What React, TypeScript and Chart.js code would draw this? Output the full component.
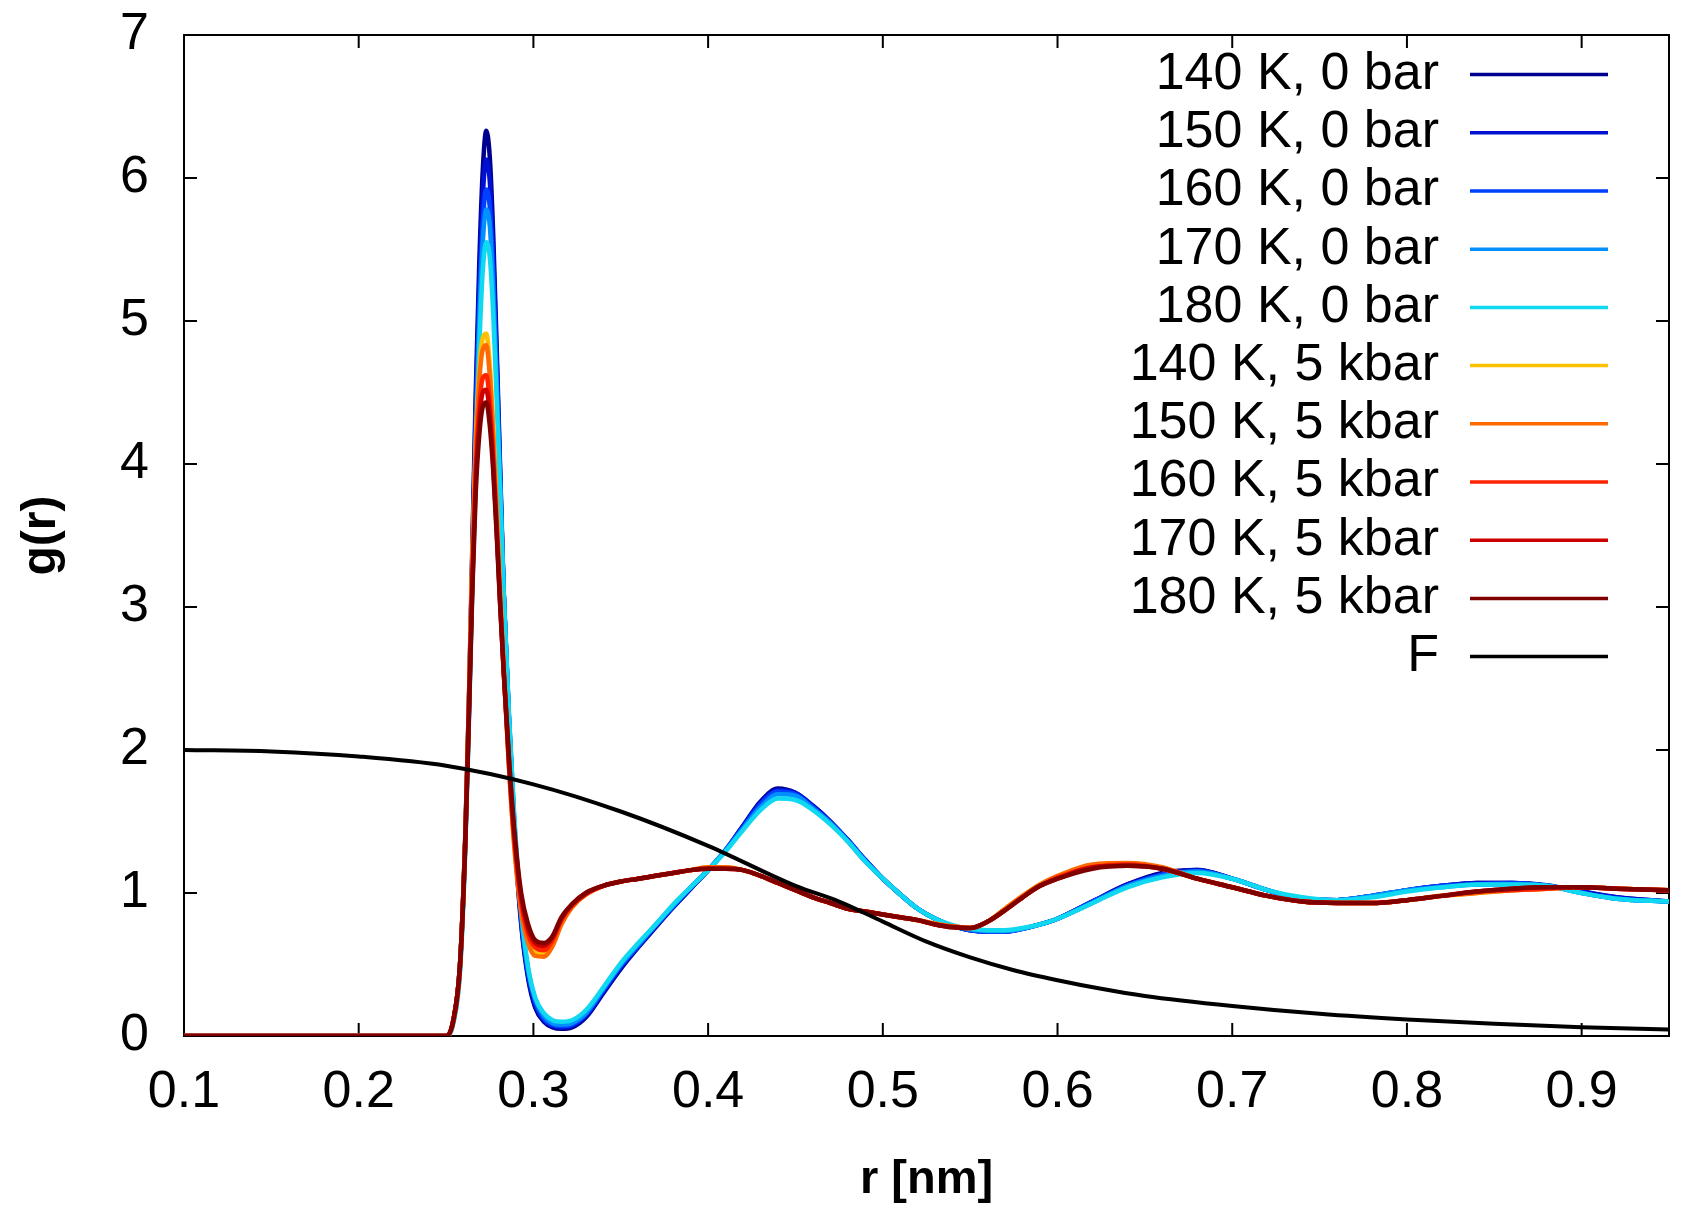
import { useEffect, useRef } from 'react';
import { Chart, registerables } from 'chart.js';

Chart.register(...registerables);

// r grid [nm] shared by all g(r) curves
const r = [
    0.10, 0.20, 0.245, 0.250, 0.254, 0.258, 0.261, 0.263, 0.265, 0.267,
    0.269, 0.271, 0.273, 0.275, 0.277, 0.279, 0.281, 0.283, 0.286, 0.289,
    0.293, 0.297, 0.301, 0.306, 0.311, 0.316, 0.322, 0.330, 0.340, 0.350,
    0.360, 0.370, 0.380, 0.390, 0.400, 0.410, 0.420, 0.430, 0.440, 0.450,
    0.460, 0.470, 0.480, 0.490, 0.500, 0.510, 0.520, 0.530, 0.540, 0.550,
    0.560, 0.570, 0.580, 0.590, 0.600, 0.620, 0.640, 0.660, 0.680, 0.700,
    0.720, 0.740, 0.760, 0.780, 0.800, 0.820, 0.840, 0.860, 0.880, 0.900,
    0.920, 0.950,
];

// 0 bar
const g140_0 = [
    0, 0, 0, 0, 0.1, 0.5, 1.4, 2.3, 3.4, 4.5,
    5.4, 6.05, 6.33, 6.15, 5.6, 4.8, 3.95, 3.1, 2.2, 1.45,
    0.78, 0.4, 0.2, 0.1, 0.06, 0.05, 0.06, 0.13, 0.3, 0.47,
    0.62, 0.76, 0.9, 1.03, 1.16, 1.3, 1.47, 1.64, 1.73, 1.7,
    1.61, 1.5, 1.37, 1.23, 1.1, 0.99, 0.89, 0.82, 0.77, 0.74,
    0.73, 0.73, 0.75, 0.78, 0.82, 0.94, 1.06, 1.14, 1.16, 1.1,
    1.02, 0.96, 0.95, 0.98, 1.02, 1.05, 1.07, 1.07, 1.055, 1.01,
    0.97, 0.94,
];
const g150_0 = [
    0, 0, 0, 0, 0.1, 0.5, 1.38, 2.28, 3.35, 4.4,
    5.25, 5.87, 6.13, 5.98, 5.48, 4.72, 3.92, 3.1, 2.22, 1.47,
    0.8, 0.42, 0.22, 0.11, 0.07, 0.06, 0.07, 0.14, 0.31, 0.48,
    0.63, 0.77, 0.9, 1.03, 1.16, 1.3, 1.47, 1.63, 1.72, 1.7,
    1.61, 1.5, 1.37, 1.23, 1.1, 0.99, 0.89, 0.82, 0.77, 0.74,
    0.73, 0.73, 0.75, 0.78, 0.82, 0.94, 1.06, 1.13, 1.16, 1.1,
    1.02, 0.96, 0.95, 0.98, 1.02, 1.05, 1.07, 1.07, 1.05, 1.01,
    0.97, 0.94,
];
const g160_0 = [
    0, 0, 0, 0, 0.09, 0.48, 1.36, 2.25, 3.3, 4.3,
    5.1, 5.68, 5.92, 5.8, 5.33, 4.62, 3.87, 3.1, 2.23, 1.5,
    0.83, 0.44, 0.24, 0.12, 0.08, 0.07, 0.08, 0.15, 0.32, 0.49,
    0.63, 0.77, 0.91, 1.04, 1.16, 1.3, 1.46, 1.62, 1.71, 1.69,
    1.6, 1.49, 1.37, 1.23, 1.1, 0.99, 0.89, 0.82, 0.77, 0.74,
    0.73, 0.73, 0.75, 0.78, 0.82, 0.94, 1.05, 1.13, 1.15, 1.1,
    1.02, 0.96, 0.95, 0.98, 1.02, 1.05, 1.06, 1.07, 1.05, 1.0,
    0.96, 0.94,
];
const g170_0 = [
    0, 0, 0, 0, 0.09, 0.47, 1.33, 2.2, 3.2, 4.17,
    4.98, 5.55, 5.78, 5.67, 5.22, 4.55, 3.84, 3.1, 2.24, 1.52,
    0.85, 0.46, 0.26, 0.14, 0.09, 0.08, 0.09, 0.16, 0.33, 0.5,
    0.64, 0.78, 0.91, 1.04, 1.16, 1.3, 1.45, 1.6, 1.69, 1.68,
    1.59, 1.49, 1.36, 1.22, 1.1, 0.99, 0.89, 0.82, 0.77, 0.745,
    0.735, 0.735, 0.75, 0.78, 0.82, 0.93, 1.05, 1.12, 1.15, 1.1,
    1.02, 0.96, 0.95, 0.98, 1.02, 1.04, 1.06, 1.06, 1.05, 1.0,
    0.96, 0.94,
];
const g180_0 = [
    0, 0, 0, 0, 0.08, 0.45, 1.3, 2.15, 3.1, 4.0,
    4.8, 5.35, 5.55, 5.45, 5.05, 4.45, 3.8, 3.1, 2.25, 1.55,
    0.88, 0.48, 0.27, 0.16, 0.11, 0.1, 0.11, 0.18, 0.34, 0.51,
    0.65, 0.78, 0.92, 1.04, 1.16, 1.29, 1.44, 1.58, 1.66, 1.65,
    1.58, 1.48, 1.36, 1.22, 1.1, 0.99, 0.89, 0.82, 0.775, 0.75,
    0.74, 0.74, 0.755, 0.78, 0.82, 0.93, 1.04, 1.11, 1.14, 1.1,
    1.02, 0.97, 0.95, 0.97, 1.01, 1.04, 1.06, 1.06, 1.05, 1.0,
    0.96, 0.94,
];

// 5 kbar
const g140_5 = [
    0, 0, 0, 0, 0.1, 0.5, 1.39, 2.3, 3.35, 4.15,
    4.65, 4.88, 4.91, 4.7, 4.26, 3.68, 3.1, 2.58, 1.9, 1.35,
    0.9, 0.67, 0.58, 0.57, 0.64, 0.79, 0.9, 0.99, 1.05, 1.08,
    1.1, 1.12, 1.14, 1.16, 1.18, 1.18, 1.16, 1.12, 1.07, 1.02,
    0.97, 0.93, 0.89, 0.87, 0.85, 0.83, 0.81, 0.785, 0.765, 0.755,
    0.8, 0.89, 0.98, 1.06, 1.11, 1.19, 1.2, 1.17, 1.1, 1.04,
    0.98, 0.94, 0.93, 0.93, 0.95, 0.98, 1.0, 1.02, 1.03, 1.04,
    1.03, 1.02,
];
const g150_5 = [
    0, 0, 0, 0, 0.1, 0.5, 1.38, 2.28, 3.3, 4.1,
    4.58, 4.8, 4.83, 4.62, 4.2, 3.65, 3.08, 2.57, 1.88, 1.33,
    0.87, 0.65, 0.56, 0.555, 0.63, 0.78, 0.9, 0.99, 1.05, 1.08,
    1.1, 1.12, 1.14, 1.16, 1.18, 1.18, 1.16, 1.12, 1.07, 1.02,
    0.97, 0.93, 0.89, 0.87, 0.85, 0.83, 0.81, 0.785, 0.765, 0.755,
    0.8, 0.89, 0.98, 1.06, 1.12, 1.2, 1.21, 1.18, 1.1, 1.04,
    0.98, 0.94, 0.93, 0.93, 0.95, 0.98, 1.0, 1.02, 1.03, 1.04,
    1.03, 1.02,
];
const g160_5 = [
    0, 0, 0, 0, 0.1, 0.5, 1.37, 2.25, 3.2, 3.95,
    4.4, 4.6, 4.62, 4.44, 4.06, 3.56, 3.03, 2.55, 1.9, 1.38,
    0.93, 0.71, 0.62, 0.6, 0.67, 0.81, 0.91, 0.99, 1.05, 1.08,
    1.1, 1.12, 1.14, 1.16, 1.17, 1.17, 1.16, 1.12, 1.07, 1.02,
    0.97, 0.93, 0.89, 0.87, 0.85, 0.83, 0.81, 0.78, 0.765, 0.755,
    0.8, 0.88, 0.97, 1.05, 1.11, 1.18, 1.2, 1.17, 1.1, 1.04,
    0.98, 0.94, 0.93, 0.93, 0.95, 0.98, 1.01, 1.02, 1.03, 1.04,
    1.03, 1.02,
];
const g170_5 = [
    0, 0, 0, 0, 0.1, 0.5, 1.36, 2.22, 3.15, 3.88,
    4.3, 4.5, 4.52, 4.35, 4.0, 3.53, 3.02, 2.55, 1.93, 1.42,
    0.97, 0.75, 0.65, 0.63, 0.69, 0.82, 0.92, 1.0, 1.05, 1.08,
    1.1, 1.12, 1.14, 1.16, 1.17, 1.17, 1.16, 1.12, 1.07, 1.02,
    0.97, 0.93, 0.89, 0.87, 0.85, 0.83, 0.81, 0.78, 0.76, 0.755,
    0.8, 0.88, 0.97, 1.05, 1.1, 1.18, 1.19, 1.17, 1.1, 1.04,
    0.98, 0.94, 0.93, 0.93, 0.95, 0.98, 1.01, 1.03, 1.04, 1.04,
    1.03, 1.02,
];
const g180_5 = [
    0, 0, 0, 0, 0.1, 0.5, 1.35, 2.2, 3.1, 3.8,
    4.2, 4.4, 4.43, 4.27, 3.95, 3.5, 3.0, 2.55, 1.95, 1.45,
    1.0, 0.78, 0.67, 0.65, 0.7, 0.83, 0.92, 1.0, 1.05, 1.08,
    1.1, 1.12, 1.14, 1.16, 1.17, 1.17, 1.16, 1.12, 1.07, 1.02,
    0.97, 0.93, 0.89, 0.87, 0.85, 0.83, 0.81, 0.78, 0.76, 0.755,
    0.8, 0.88, 0.97, 1.05, 1.1, 1.17, 1.19, 1.17, 1.1, 1.04,
    0.98, 0.94, 0.93, 0.93, 0.95, 0.98, 1.01, 1.03, 1.04, 1.04,
    1.03, 1.02,
];

// F curve
const rF = [
    0.10, 0.15, 0.20, 0.25, 0.30, 0.35, 0.40, 0.45, 0.475, 0.50,
    0.525, 0.55, 0.575, 0.60, 0.625, 0.65, 0.70, 0.75, 0.80, 0.85,
    0.90, 0.95,
];
const fVals = [
    2.0, 1.99, 1.955, 1.89, 1.76, 1.57, 1.33, 1.05, 0.94, 0.8,
    0.66, 0.55, 0.46, 0.39, 0.33, 0.28, 0.21, 0.155, 0.115, 0.085,
    0.062, 0.045,
];

const xTicks = [0.1, 0.2, 0.3, 0.4, 0.5, 0.6, 0.7, 0.8, 0.9];
const yTicks = [0, 1, 2, 3, 4, 5, 6, 7];

const labels = [
    '140 K, 0 bar', '150 K, 0 bar', '160 K, 0 bar', '170 K, 0 bar', '180 K, 0 bar',
    '140 K, 5 kbar', '150 K, 5 kbar', '160 K, 5 kbar', '170 K, 5 kbar', '180 K, 5 kbar',
    'F',
];
const colors = [
    '#000090', '#0010d0', '#0040ff', '#0090ff', '#10d8f0',
    '#ffc000', '#ff6a00', '#ff2400', '#cc0000', '#800000',
    '#000000',
];

const FONT = '"Liberation Sans", Arial, Helvetica, sans-serif';

const framePlugin = {
    id: 'gnuFrame',
    beforeDatasetsDraw(chart: any) {
        const { ctx, chartArea: a, scales } = chart;
        ctx.save();
        ctx.strokeStyle = '#000';
        ctx.lineWidth = 2;
        ctx.strokeRect(a.left, a.top, a.right - a.left, a.bottom - a.top);
        ctx.beginPath();
        xTicks.forEach((v) => {
            const px = scales.x.getPixelForValue(v);
            ctx.moveTo(px, a.bottom);
            ctx.lineTo(px, a.bottom - 13);
            ctx.moveTo(px, a.top);
            ctx.lineTo(px, a.top + 13);
        });
        yTicks.forEach((v) => {
            const py = scales.y.getPixelForValue(v);
            ctx.moveTo(a.left, py);
            ctx.lineTo(a.left + 13, py);
            ctx.moveTo(a.right, py);
            ctx.lineTo(a.right - 13, py);
        });
        ctx.stroke();
        ctx.restore();
    },
    afterDatasetsDraw(chart: any) {
        const { ctx, chartArea: a } = chart;
        ctx.save();
        ctx.font = `52px ${FONT}`;
        ctx.textAlign = 'right';
        ctx.textBaseline = 'middle';
        chart.data.datasets.forEach((ds: any, i: number) => {
            const y = a.top + 39.6 + i * 58.2;
            ctx.fillStyle = '#000';
            ctx.fillText(ds.label, a.right - 230, y);
            ctx.strokeStyle = ds.borderColor;
            ctx.lineWidth = 3.5;
            ctx.beginPath();
            ctx.moveTo(a.right - 199, y);
            ctx.lineTo(a.right - 61, y);
            ctx.stroke();
        });
        ctx.restore();
    },
};

export default function App() {
    const chartRef = useRef<HTMLCanvasElement>(null);
    const chartInstance = useRef<Chart | null>(null);

    useEffect(() => {
        document.body.style.margin = '0';
        if (!chartRef.current) return;
        if (chartInstance.current) chartInstance.current.destroy();
        const ctx = chartRef.current.getContext('2d');
        if (!ctx) return;

        const series = [g140_0, g150_0, g160_0, g170_0, g180_0, g140_5, g150_5, g160_5, g170_5, g180_5];
        const datasets: any[] = series.map((vals, i) => ({
            label: labels[i],
            data: r.map((x, j) => ({ x, y: vals[j] })),
            borderColor: colors[i],
            borderWidth: 4.5,
            pointRadius: 0,
            cubicInterpolationMode: 'monotone',
            fill: false,
            order: -i,
        }));
        datasets.push({
            label: labels[10],
            data: rF.map((x, j) => ({ x, y: fVals[j] })),
            borderColor: colors[10],
            borderWidth: 4,
            pointRadius: 0,
            cubicInterpolationMode: 'monotone',
            fill: false,
            order: -10,
        });

        const config: any = {
            type: 'line',
            data: { datasets },
            options: {
                responsive: false,
                animation: false,
                devicePixelRatio: 1,
                layout: { padding: { top: 35, right: 19, left: 0, bottom: 0 } },
                plugins: {
                    legend: { display: false },
                    tooltip: { enabled: false },
                },
                scales: {
                    x: {
                        type: 'linear',
                        min: 0.1,
                        max: 0.95,
                        afterBuildTicks: (scale: any) => {
                            scale.ticks = xTicks.map((v) => ({ value: v }));
                        },
                        afterFit: (scale: any) => {
                            scale.height = 184;
                            scale.paddingLeft = 0;
                            scale.paddingRight = 0;
                        },
                        grid: { display: false, drawTicks: false },
                        border: { display: false },
                        ticks: {
                            padding: 25,
                            maxRotation: 0,
                            autoSkip: false,
                            color: '#000',
                            font: { family: FONT, size: 52 },
                            callback: (v: any) => Number(v).toFixed(1),
                        },
                        title: {
                            display: true,
                            text: 'r [nm]',
                            color: '#000',
                            font: { family: FONT, size: 47, weight: 'bold' },
                            padding: { top: 0, bottom: 12 },
                        },
                    },
                    y: {
                        min: 0,
                        max: 7,
                        afterBuildTicks: (scale: any) => {
                            scale.ticks = yTicks.map((v) => ({ value: v }));
                        },
                        afterFit: (scale: any) => {
                            scale.width = 184;
                            scale.paddingTop = 0;
                            scale.paddingBottom = 0;
                        },
                        grid: { display: false, drawTicks: false },
                        border: { display: false },
                        ticks: {
                            padding: 35,
                            color: '#000',
                            font: { family: FONT, size: 52 },
                            callback: (v: any) => String(v),
                        },
                        title: {
                            display: true,
                            text: 'g(r)',
                            color: '#000',
                            font: { family: FONT, size: 48, weight: 'bold' },
                            padding: { top: 13, bottom: 0 },
                        },
                    },
                },
            },
            plugins: [framePlugin],
        };

        chartInstance.current = new Chart(ctx, config);

        return () => {
            if (chartInstance.current) {
                chartInstance.current.destroy();
                chartInstance.current = null;
            }
        };
    }, []);

    return <canvas ref={chartRef} width={1688} height={1220} style={{ display: 'block' }} />;
}
